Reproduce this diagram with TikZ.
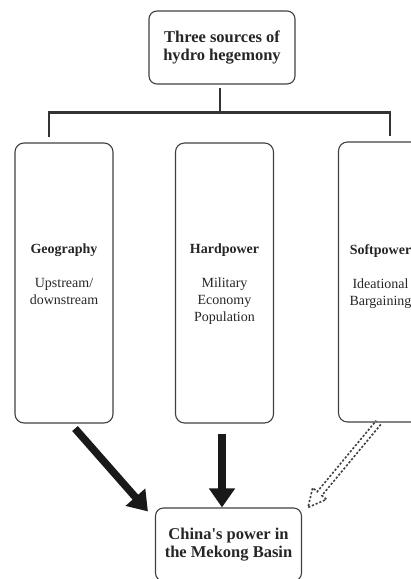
\documentclass[tikz,border=0pt]{standalone}
\usepackage{fontspec}
\setmainfont{Liberation Serif}
\usetikzlibrary{calc,arrows.meta}
\tikzset{
  endbox/.style={draw=black!75, line width=1.1pt, rounded corners=8pt, minimum width=146pt, minimum height=73pt, align=center, text=black!85, font=\bfseries\fontsize{16.5}{17.5}\selectfont},
  colbox/.style={draw=black!75, line width=1.1pt, rounded corners=9pt, minimum width=98pt, minimum height=280pt},
  coltext/.style={anchor=north, align=center, inner sep=0pt, text=black!85, font=\fontsize{14}{17}\selectfont},
  treeline/.style={draw=black!80, line width=2.4pt},
  bigarrow/.style={draw=black!90, line width=7.5pt, -{Triangle[length=19pt,width=25pt]}},
  hollowarrow/.style={draw=black!75, line width=1.6pt, dash pattern=on 2.2pt off 1.8pt}
}
\begin{document}
\begin{tikzpicture}[x=1pt,y=1pt]
\useasboundingbox (0,0) rectangle (411,579);
\node[endbox] (sources) at (222,531.5) {Three sources of\\hydro hegemony};
\node[colbox] (geo) at (64,296) {};
\node[colbox] (hard) at (224.5,296) {};
\node[colbox] (soft) at (387.5,297) {};
\node[endbox] (china) at (228.5,34.5) {China\textquotesingle s power in\\the Mekong Basin};
% texts in the columns
\node[coltext] (geotext) at ([yshift=-101.5pt]geo.north) {\textbf{Geography}\\[17pt]Upstream/\\downstream};
\node[coltext] (hardtext) at ([yshift=-101.5pt]hard.north) {\textbf{Hardpower}\\[17pt]Military\\Economy\\Population};
\node[coltext] (softtext) at ([xshift=-7pt,yshift=-102.5pt]soft.north) {\textbf{Softpower}\\[17pt]Ideational\\Bargaining};
% tree
\draw[treeline] ([xshift=-2pt,yshift=-3pt]sources.south) -- ++(0,-26);
\draw[treeline] ([xshift=-15pt,yshift=5pt]geo.north) -- ++(0,25) -| ([xshift=2.5pt,yshift=5pt]soft.north);
% arrows
\draw[bigarrow] ([shift={(11,-5)}]geo.south) -- ([shift={(-7,-4)}]china.north west);
\draw[bigarrow] ([shift={(-2.5,-10)}]hard.south) -- ([xshift=-2.5pt]hard.south |- china.north);
\coordinate (sa) at ([xshift=-9pt]soft.south);
\coordinate (sb) at ([xshift=6pt]china.north east);
\coordinate (sh) at ($(sb)!18pt!(sa)$);
\draw[hollowarrow] ($(sa)!3pt!90:(sb)$) -- ($(sh)!3pt!90:(sb)$) -- ($(sh)!9pt!90:(sb)$) -- (sb)
  -- ($(sh)!9pt!-90:(sb)$) -- ($(sh)!3pt!-90:(sb)$) -- ($(sa)!3pt!-90:(sb)$);
\end{tikzpicture}
\end{document}
